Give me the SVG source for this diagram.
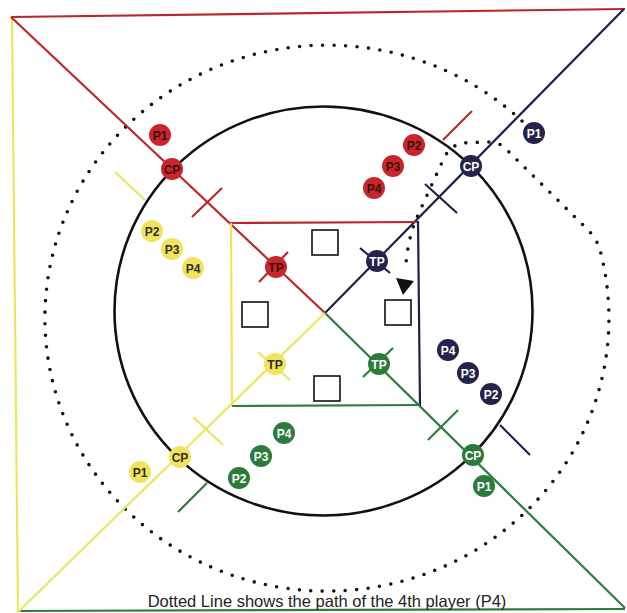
<svg xmlns="http://www.w3.org/2000/svg" width="627" height="613" viewBox="0 0 627 613">
<defs>
<style>
.bg{fill:#ffffff}
.l{fill:none;stroke-width:2.2;stroke-linecap:butt}
.rl{stroke:#b9272d}
.yl{stroke:#ebe55f}
.bl{stroke:#1f2048}
.gl{stroke:#2f7d3c}
.ring{fill:none;stroke:#111;stroke-width:2.6}
.dots{fill:none;stroke:#111;stroke-width:3.6;stroke-linecap:round;stroke-dasharray:0 11.5}
.sq{fill:#fff;stroke:#111;stroke-width:1.6}
.n text{font-family:"Liberation Sans",Arial,sans-serif;font-weight:bold;font-size:12px;text-anchor:middle}
.red circle{fill:#c8262c}
.red text{fill:#3a0b0b}
.yel circle{fill:#f1e45a}
.yel text{fill:#2e2e2e}
.nav circle{fill:#23234b}
.nav text{fill:#ffffff}
.grn circle{fill:#2b7b3a}
.grn text{fill:#ffffff}
.cap{font-family:"Liberation Sans",Arial,sans-serif;font-size:16.5px;fill:#222;text-anchor:middle}
</style>
</defs>
<rect class="bg" x="0" y="0" width="627" height="613"/>

<g id="field">
<ellipse class="ring" cx="323.5" cy="311" rx="209" ry="204.5"/>
<path class="dots" d="M522,121 A282,273 0 1 0 600,250 C596,238 592,234 585,227 L507,150 Q500,142 488,142 L462,143 Q450,146 444,158 L418,215 Q410,232 407,255 L405,270"/>
<polygon points="396,278 414,281 403,295" fill="#111"/>
<rect class="sq" x="312" y="230" width="26" height="25"/>
<rect class="sq" x="242" y="302" width="26" height="25"/>
<rect class="sq" x="385" y="300" width="26" height="25"/>
<rect class="sq" x="314" y="376" width="26" height="25"/>
</g>

<g id="connectors">
<line class="l rl" x1="11" y1="17" x2="625" y2="9"/>
<line class="l yl" x1="12" y1="17" x2="18" y2="612"/>
<line class="l gl" x1="18" y1="611" x2="625" y2="609"/>
<line class="l rl" x1="11" y1="17" x2="325" y2="313"/>
<line class="l bl" x1="325" y1="313" x2="624" y2="9"/>
<line class="l gl" x1="325" y1="313" x2="625" y2="608"/>
<line class="l yl" x1="325" y1="313" x2="18" y2="612"/>
<line class="l rl" x1="230" y1="223" x2="418" y2="222"/>
<line class="l yl" x1="231" y1="223" x2="232" y2="406"/>
<line class="l bl" x1="418" y1="221" x2="420" y2="406"/>
<line class="l gl" x1="232" y1="406" x2="420" y2="405"/>
<line class="l rl" x1="192" y1="217" x2="222" y2="188"/>
<line class="l bl" x1="425" y1="184" x2="457" y2="213"/>
<line class="l gl" x1="428" y1="440" x2="458" y2="410"/>
<line class="l yl" x1="193" y1="417" x2="223" y2="445"/>
<line class="l rl" x1="259" y1="282" x2="288" y2="252"/>
<line class="l bl" x1="360" y1="248" x2="390" y2="273"/>
<line class="l gl" x1="363" y1="377" x2="393" y2="348"/>
<line class="l yl" x1="258" y1="352" x2="290" y2="380"/>
<line class="l yl" x1="115" y1="172" x2="145" y2="200"/>
<line class="l rl" x1="443" y1="140" x2="472" y2="111"/>
<line class="l bl" x1="500" y1="425" x2="530" y2="455"/>
<line class="l gl" x1="207" y1="483" x2="178" y2="512"/>
</g>

<g id="red-cp" class="n red"><circle cx="172" cy="169" r="11"/><text x="172" y="173.5">CP</text></g>
<g id="red-tp" class="n red"><circle cx="276" cy="267" r="11"/><text x="276" y="271.5">TP</text></g>
<g id="red-p1" class="n red"><circle cx="160" cy="135" r="11"/><text x="160" y="139.5">P1</text></g>
<g id="red-p2" class="n red"><circle cx="414" cy="145" r="11"/><text x="414" y="149.5">P2</text></g>
<g id="red-p3" class="n red"><circle cx="393" cy="166" r="11"/><text x="393" y="170.5">P3</text></g>
<g id="red-p4" class="n red"><circle cx="374" cy="188" r="11"/><text x="374" y="192.5">P4</text></g>

<g id="blue-cp" class="n nav"><circle cx="471" cy="166" r="11"/><text x="471" y="170.5">CP</text></g>
<g id="blue-tp" class="n nav"><circle cx="377" cy="261" r="11"/><text x="377" y="265.5">TP</text></g>
<g id="blue-p1" class="n nav"><circle cx="534" cy="133" r="11"/><text x="534" y="137.5">P1</text></g>
<g id="blue-p2" class="n nav"><circle cx="491" cy="394" r="11"/><text x="491" y="398.5">P2</text></g>
<g id="blue-p3" class="n nav"><circle cx="468" cy="373" r="11"/><text x="468" y="377.5">P3</text></g>
<g id="blue-p4" class="n nav"><circle cx="448" cy="350" r="11"/><text x="448" y="354.5">P4</text></g>

<g id="green-cp" class="n grn"><circle cx="473" cy="455" r="11"/><text x="473" y="459.5">CP</text></g>
<g id="green-tp" class="n grn"><circle cx="379" cy="364" r="11"/><text x="379" y="368.5">TP</text></g>
<g id="green-p1" class="n grn"><circle cx="484" cy="486" r="11"/><text x="484" y="490.5">P1</text></g>
<g id="green-p2" class="n grn"><circle cx="239" cy="478" r="11"/><text x="239" y="482.5">P2</text></g>
<g id="green-p3" class="n grn"><circle cx="261" cy="456" r="11"/><text x="261" y="460.5">P3</text></g>
<g id="green-p4" class="n grn"><circle cx="284" cy="433" r="11"/><text x="284" y="437.5">P4</text></g>

<g id="yellow-cp" class="n yel"><circle cx="180" cy="457" r="11"/><text x="180" y="461.5">CP</text></g>
<g id="yellow-tp" class="n yel"><circle cx="275" cy="364" r="11"/><text x="275" y="368.5">TP</text></g>
<g id="yellow-p1" class="n yel"><circle cx="140" cy="472" r="11"/><text x="140" y="476.5">P1</text></g>
<g id="yellow-p2" class="n yel"><circle cx="152" cy="231" r="11"/><text x="152" y="235.5">P2</text></g>
<g id="yellow-p3" class="n yel"><circle cx="172" cy="249" r="11"/><text x="172" y="253.5">P3</text></g>
<g id="yellow-p4" class="n yel"><circle cx="193" cy="268" r="11"/><text x="193" y="272.5">P4</text></g>

<text class="cap" x="327" y="607">Dotted Line shows the path of the 4th player (P4)</text>
</svg>
